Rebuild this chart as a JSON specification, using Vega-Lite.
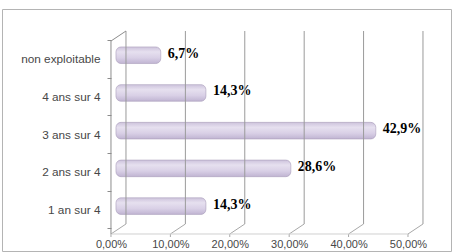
{
  "$schema": "https://vega.github.io/schema/vega-lite/v6.json",
  "width": 456,
  "height": 252,
  "autosize": {"type": "fit", "contains": "padding"},
  "padding": {"left": 2, "top": 4, "right": 5, "bottom": 1},
  "background": "white",
  "config": {
    "view": {"stroke": "#b4b4b4", "strokeWidth": 1},
    "locale": {"number": {"decimal": ",", "thousands": " ", "grouping": [3], "currency": ["", " €"]}}
  },
  "datasets": {
    "main": [
      {"cat": "non exploitable", "pct": 0.067},
      {"cat": "4 ans sur 4", "pct": 0.143},
      {"cat": "3 ans sur 4", "pct": 0.429},
      {"cat": "2 ans sur 4", "pct": 0.286},
      {"cat": "1 an sur 4", "pct": 0.143}
    ],
    "grid": [{"v": 0}, {"v": 0.1}, {"v": 0.2}, {"v": 0.3}, {"v": 0.4}, {"v": 0.5}],
    "span": [{"a": 0, "b": 0.5}]
  },
  "resolve": {"scale": {"y": "independent"}},
  "layer": [
    {
      "data": {"name": "main"},
      "encoding": {
        "y": {
          "field": "cat", "type": "nominal", "sort": null,
          "scale": {"paddingInner": 0, "paddingOuter": 0.708, "align": 0.578},
          "axis": {
            "title": null, "domain": false, "offset": -109, "tickBand": "extent",
            "tickSize": 4, "tickColor": "#8c8c8c", "labelPadding": 7,
            "labelFont": "Liberation Sans", "labelFontSize": 11.8, "labelColor": "#474747"
          }
        }
      },
      "layer": [
        {
          "mark": {
            "type": "bar", "height": {"band": 0.44}, "yOffset": -3.5, "x2Offset": -5,
            "cornerRadius": 5, "stroke": "#a99ebb", "strokeWidth": 0.6,
            "color": {
              "x1": 0, "y1": 0, "x2": 0, "y2": 1, "gradient": "linear",
              "stops": [
                {"offset": 0, "color": "#cdc3dc"},
                {"offset": 0.3, "color": "#e6e0ef"},
                {"offset": 0.65, "color": "#d9d0e6"},
                {"offset": 1, "color": "#c0b4d2"}
              ]
            }
          },
          "encoding": {
            "x": {
              "field": "pct", "type": "quantitative",
              "scale": {"domain": [-0.2003, 0.5556], "nice": false, "zero": false},
              "axis": {
                "title": null, "values": [0, 0.1, 0.2, 0.3, 0.4, 0.5], "format": ".2%",
                "grid": false, "domain": false, "ticks": false, "tickSize": 0,
                "offset": -13, "labelPadding": 0, "labelOffset": -10,
                "labelFont": "Liberation Sans", "labelFontSize": 11, "labelColor": "#474747"
              }
            },
            "x2": {"datum": 0}
          }
        },
        {
          "mark": {
            "type": "text", "align": "left", "baseline": "middle", "dx": 7, "dy": -5,
            "font": "Liberation Serif", "fontSize": 14, "fontWeight": "bold", "color": "#000000"
          },
          "encoding": {
            "x": {"field": "pct", "type": "quantitative"},
            "text": {"field": "pct", "type": "quantitative", "format": ".1%"}
          }
        }
      ]
    },
    {
      "layer": [
        {
          "data": {"name": "grid"},
          "mark": {"type": "rule", "color": "#9a9a9a", "strokeWidth": 1, "xOffset": 5},
          "encoding": {
            "x": {"field": "v", "type": "quantitative"},
            "y": {"datum": 1, "type": "quantitative", "scale": {"domain": [0, 1], "range": [215, 22]}, "axis": null},
            "y2": {"datum": 0}
          }
        },
        {
          "data": {"name": "grid"},
          "mark": {"type": "rule", "color": "#a8a8a8", "strokeWidth": 1, "xOffset": 5, "x2Offset": -10},
          "encoding": {
            "x": {"field": "v", "type": "quantitative"},
            "x2": {"field": "v"},
            "y": {"datum": 0, "type": "quantitative"},
            "y2": {"datum": -0.0518}
          }
        },
        {
          "data": {"name": "grid"},
          "mark": {"type": "rule", "color": "#a8a8a8", "strokeWidth": 1, "xOffset": -10},
          "encoding": {
            "x": {"field": "v", "type": "quantitative"},
            "y": {"datum": -0.0518, "type": "quantitative"},
            "y2": {"datum": -0.0674}
          }
        },
        {
          "data": {"name": "span"},
          "mark": {"type": "rule", "color": "#d0d0d0", "strokeWidth": 1, "xOffset": -10, "x2Offset": -10},
          "encoding": {
            "x": {"field": "a", "type": "quantitative"},
            "x2": {"field": "b"},
            "y": {"datum": -0.0518, "type": "quantitative"}
          }
        },
        {
          "data": {"name": "span"},
          "mark": {"type": "rule", "color": "#8c8c8c", "strokeWidth": 1, "xOffset": -10},
          "encoding": {
            "x": {"field": "a", "type": "quantitative"},
            "y": {"datum": 0.948, "type": "quantitative"},
            "y2": {"datum": -0.0518}
          }
        },
        {
          "data": {"name": "span"},
          "mark": {"type": "rule", "color": "#8c8c8c", "strokeWidth": 1, "xOffset": -10, "x2Offset": 5},
          "encoding": {
            "x": {"field": "a", "type": "quantitative"},
            "x2": {"field": "a"},
            "y": {"datum": 0.948, "type": "quantitative"},
            "y2": {"datum": 1}
          }
        }
      ]
    }
  ]
}
